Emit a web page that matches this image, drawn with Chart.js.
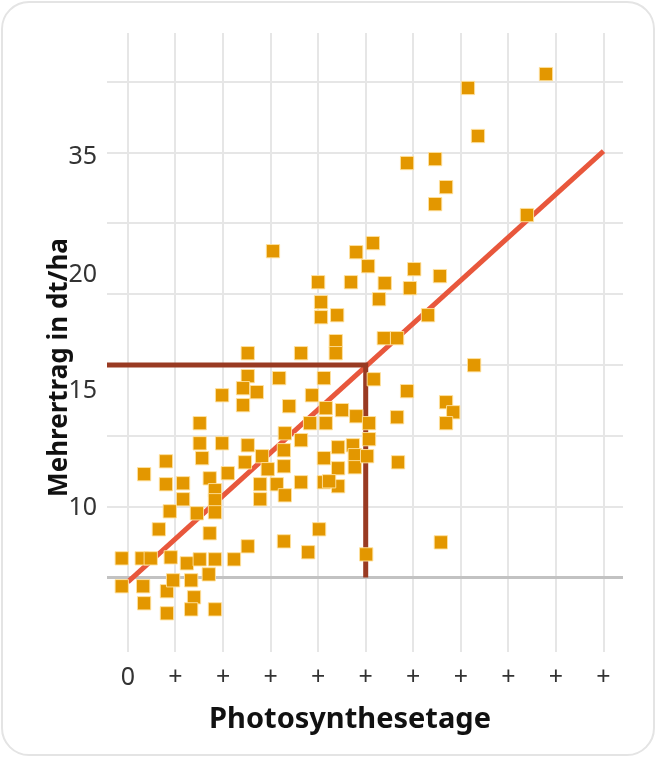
<!DOCTYPE html>
<html lang="de">
<head>
<meta charset="utf-8">
<title>Mehrertrag und Photosynthesetage</title>
<script src="https://cdn.jsdelivr.net/npm/chart.js@4.4.1/dist/chart.umd.min.js"></script>
<style>
    html, body {
        margin: 0;
        padding: 0;
        background: #ffffff;
    }
    .card {
        position: absolute;
        left: 1px;
        top: 1px;
        width: 654px;
        height: 755px;
        box-sizing: border-box;
        border: 2px solid #e4e4e4;
        border-radius: 28px;
        background: #ffffff;
    }
    .chart-box {
        position: absolute;
        left: 0;
        top: 0;
        width: 656px;
        height: 757px;
    }
</style>
</head>
<body>
<div class="card"></div>
<div class="chart-box"><canvas id="chart_main"></canvas></div>
<script>
// Punkte: Photosynthesetage (x) und Mehrertrag (y)
const dotsX = [
    -0.13, 0.29, 0.48, 0.90, 1.24, 1.51, 1.83, 2.23, 2.52,
    -0.13, 0.32, 0.34, 0.82, 0.95, 1.33, 1.39, 1.70, 0.82, 1.33, 1.83,
    0.65, 1.72, 3.28, 3.79, 4.02,
    0.34, 0.80, 0.80, 1.16, 1.16, 0.88, 1.45,
    1.72, 1.83, 1.83, 1.83,
    1.56, 1.51, 1.51, 1.98, 2.10, 2.52, 2.46, 2.82, 2.94,
    2.78, 2.78, 3.13, 3.28, 3.28, 3.30, 3.30, 3.64, 3.64,
    2.52, 3.64, 4.37, 4.37, 2.52, 2.42, 2.71, 2.42, 1.98,
    3.18, 4.12, 3.87, 5.17, 3.39, 4.16, 4.16, 4.50, 4.80, 5.07, 5.07, 3.83,
    4.12, 4.12, 4.42, 4.42, 4.42, 4.73, 4.77, 4.77, 5.03, 4.23,
    5.66, 5.87, 6.69, 6.84, 6.69, 5.68, 6.58, 5.01,
    3.05, 4.80, 5.15, 5.05, 6.02, 4.00, 4.69, 5.40, 5.93, 5.28,
    4.06, 4.06, 4.40, 5.38, 5.66, 6.31, 6.56, 7.28,
    8.79, 7.15, 7.36, 5.87, 6.46, 6.69, 6.46, 8.39
];
const dotsY = [
    6.36, 6.36, 6.36, 6.43, 6.01, 6.29, 6.29, 6.29, 7.21,
    4.39, 4.39, 3.19, 4.04, 4.81, 4.81, 3.61, 5.23, 2.48, 2.76, 2.76,
    8.41, 8.13, 7.56, 6.79, 8.41,
    12.30, 13.21, 11.59, 11.66, 10.53, 9.68, 9.54,
    12.01, 11.17, 10.46, 9.61,
    13.43, 14.48, 15.90, 14.48, 12.37, 14.34, 13.14, 13.57, 12.65,
    11.59, 10.53, 11.59, 13.99, 12.86, 15.19, 10.81, 11.73, 14.70,
    20.84, 20.84, 21.69, 20.84, 19.22, 18.37, 18.09, 17.17, 17.87,
    19.08, 19.08, 17.87, 19.00, 17.10, 16.96, 15.90, 16.82, 16.39, 15.90, 14.77, 15.90,
    13.43, 11.73, 12.72, 11.45, 14.20, 14.34, 13.64, 12.79, 13.57, 11.80,
    16.32, 18.16, 17.38, 16.67, 15.90, 13.14, 7.49, 6.64,
    28.04, 27.97, 28.61, 26.98, 26.77, 25.85, 25.85, 25.78, 25.43, 24.65,
    24.44, 23.38, 23.52, 21.90, 21.90, 23.52, 26.28, 19.99,
    40.54, 39.56, 36.17, 34.26, 34.54, 32.56, 31.36, 30.59
];

// Regressionsgerade
const trendX = [0, 10];
const trendY = [4.7, 35.1];

// Ablesehilfe (waagrecht, dann senkrecht)
const guideX = [-0.44, 5, 5];
const guideY = [20, 20, 5];

// Achsen
const xRange = [-0.44, 10.41];
const yRange = [-0.25, 43.44];
const xTickValues = [0, 1, 2, 3, 4, 5, 6, 7, 8, 9, 10];
const xTickLabels = ['0', '+', '+', '+', '+', '+', '+', '+', '+', '+', '+'];
const yGridValues = [5, 10, 15, 20, 25, 30, 35, 40];
const yTickValues = [9.9, 18.2, 26.4, 34.7];
const yTickLabels = ['10', '15', '20', '35'];
const baselineValue = 5;

const xTitle = 'Photosynthesetage';
const yTitle = 'Mehrertrag in dt/ha';

const FONT = '"Noto Sans", "Open Sans", sans-serif';

function toPoints(xs, ys) {
    return xs.map((x, i) => ({ x: x, y: ys[i] }));
}

// Achsentitel selbst zeichnen, damit die Lage wie im Original passt
const axisTitlePlugin = {
    id: 'axisTitles',
    afterDraw(chart) {
        const ctx = chart.ctx;
        const area = chart.chartArea;
        ctx.save();
        ctx.fillStyle = '#111111';
        ctx.textAlign = 'center';
        ctx.textBaseline = 'alphabetic';
        ctx.font = 'bold 29px ' + FONT;
        ctx.fillText(xTitle, area.left + area.width / 2 - 15, area.bottom + 76);

        ctx.font = 'bold 26px ' + FONT;
        ctx.translate(67, area.top + area.height / 2 + 25);
        ctx.rotate(-Math.PI / 2);
        ctx.fillText(yTitle, 0, 0);
        ctx.restore();
    }
};

const ctx = document.getElementById('chart_main');

new Chart(ctx, {
    type: 'scatter',
    data: {
        datasets: [
            {
                label: 'Messwerte',
                data: toPoints(dotsX, dotsY),
                pointStyle: 'rect',
                pointRadius: 9.4,
                pointHoverRadius: 9.4,
                backgroundColor: '#e39700',
                borderColor: 'rgba(255, 226, 160, 0.9)',
                borderWidth: 1,
                order: 0
            },
            {
                type: 'line',
                label: 'Trend',
                data: toPoints(trendX, trendY),
                borderColor: '#e8573c',
                borderWidth: 5,
                pointRadius: 0,
                fill: false,
                order: 2
            },
            {
                type: 'line',
                label: 'Ablesung',
                data: toPoints(guideX, guideY),
                borderColor: '#993a22',
                borderWidth: 5,
                borderJoinStyle: 'miter',
                pointRadius: 0,
                fill: false,
                order: 1
            }
        ]
    },
    options: {
        responsive: true,
        maintainAspectRatio: false,
        animation: false,
        layout: {
            padding: { top: 33, right: 33, left: 0, bottom: 0 }
        },
        plugins: {
            legend: { display: false },
            tooltip: { enabled: false }
        },
        scales: {
            x: {
                type: 'linear',
                min: xRange[0],
                max: xRange[1],
                afterBuildTicks: scale => {
                    scale.ticks = xTickValues.map(v => ({ value: v }));
                },
                afterFit: scale => { scale.height = 105; },
                border: { display: false },
                grid: {
                    color: '#e6e6e6',
                    lineWidth: 2,
                    drawTicks: false
                },
                ticks: {
                    padding: 11,
                    color: '#333333',
                    font: { family: FONT, size: 25 },
                    callback: value => xTickLabels[xTickValues.indexOf(value)]
                }
            },
            y: {
                type: 'linear',
                position: 'left',
                min: yRange[0],
                max: yRange[1],
                afterBuildTicks: scale => {
                    scale.ticks = yTickValues.map(v => ({ value: v }));
                },
                afterFit: scale => { scale.width = 107; },
                border: { display: false },
                grid: { display: false, drawTicks: false },
                ticks: {
                    padding: 10,
                    color: '#333333',
                    font: { family: FONT, size: 25 },
                    callback: value => yTickLabels[yTickValues.indexOf(value)]
                }
            },
            yGrid: {
                type: 'linear',
                position: 'right',
                min: yRange[0],
                max: yRange[1],
                afterBuildTicks: scale => {
                    scale.ticks = yGridValues.map(v => ({ value: v }));
                },
                afterFit: scale => { scale.width = 0; },
                border: { display: false },
                grid: {
                    drawTicks: false,
                    color: c => c.tick && c.tick.value === baselineValue ? '#c2c2c2' : '#e6e6e6',
                    lineWidth: c => c.tick && c.tick.value === baselineValue ? 3 : 2
                },
                ticks: { display: false }
            }
        }
    },
    plugins: [axisTitlePlugin]
});
</script>
</body>
</html>
